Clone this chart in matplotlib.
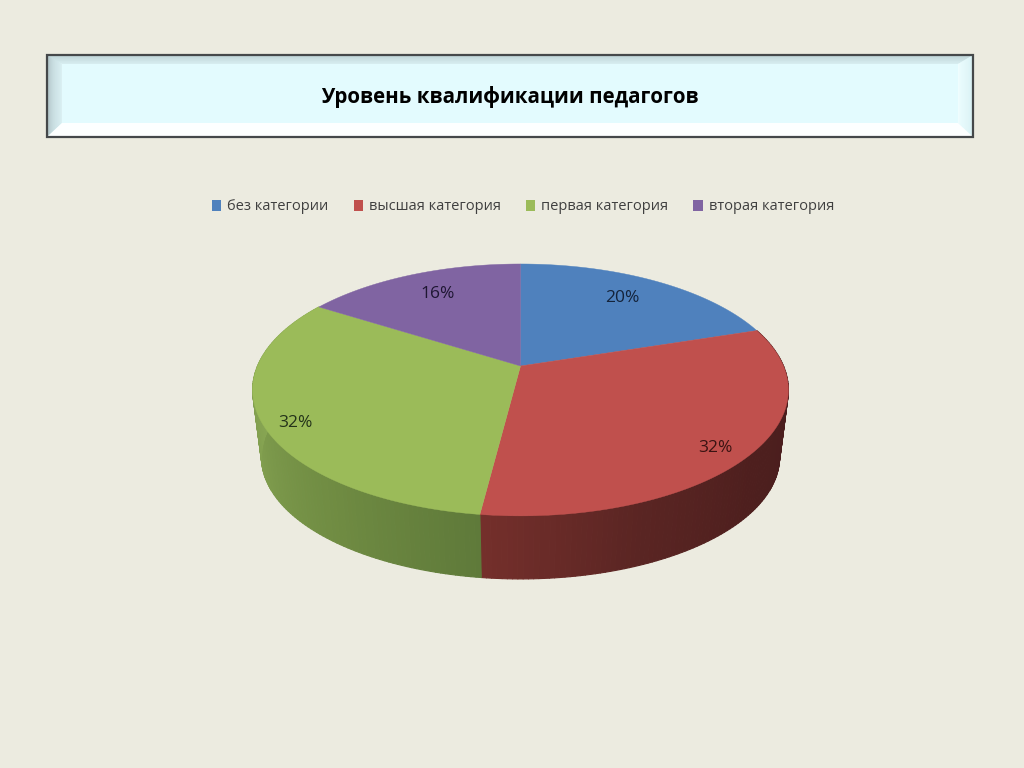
import numpy as np
import matplotlib
matplotlib.use("Agg")
import matplotlib.pyplot as plt
from matplotlib.patches import Patch, Rectangle, Polygon
from matplotlib.collections import PolyCollection
from matplotlib.colors import to_rgb

title = "Уровень квалификации педагогов"
categories = ["без категории", "высшая категория", "первая категория", "вторая категория"]
values = [20, 32, 32, 16]
labels = ["20%", "32%", "32%", "16%"]
colors = ["#4F81BD", "#C0504D", "#9BBB59", "#8064A2"]
label_colors = ["#14233a", "#3a1312", "#24331a", "#1e1632"]

side_red = ["#4a1e1e", "#4a1e1e", "#4e1f1e", "#5a2523", "#742f2b"]
side_green = ["#5f7a3a", "#6f8b42", "#7d9a4c", "#88a653", "#8eae57"]

BG = "#ECEBE0"
K = 0.19; A = 263.0; B = 121.4; CX = 520.5; CY_TOP = 366.0; CY_BOT = 434.0; S_BOT = 0.967


def project(theta, r=1.0, bottom=False):
    sx = r * np.sin(theta); cy = r * np.cos(theta)
    w = 1 + K * cy
    X = A * sx / w; Y = B * cy / w
    if bottom:
        return CX + S_BOT * X, CY_BOT - S_BOT * Y
    return CX + X, CY_TOP - Y


def mix(c0, c1, t):
    a = np.array(to_rgb(c0)); b = np.array(to_rgb(c1))
    return tuple(a + (b - a) * t)


plt.rcParams["font.family"] = ["Open Sans", "DejaVu Sans"]
fig = plt.figure(figsize=(10.24, 7.68), dpi=100, facecolor=BG)
ax = fig.add_axes([0, 0, 1, 1])
ax.set_xlim(0, 1024); ax.set_ylim(768, 0); ax.axis("off")

# title box with a soft bevel
x0, x1, y0, y1 = 47, 973, 55, 137
ax.add_patch(Rectangle((x0, y0), x1 - x0, y1 - y0, fc="#E3FBFE", ec="none", zorder=1))
bt, bl, bb, br = 9, 15, 14, 15
steps = 14
for s in range(steps):
    f0, f1 = s / steps, (s + 1) / steps
    ax.add_patch(Polygon([(x0 + bl * f0, y0 + bt * f0), (x1 - br * f0, y0 + bt * f0),
                          (x1 - br * f1, y0 + bt * f1), (x0 + bl * f1, y0 + bt * f1)],
                         fc=mix("#B4C8CB", "#D6ECEF", f0), ec="none", zorder=2))
    ax.add_patch(Polygon([(x0 + bl * f0, y0 + bt * f0), (x0 + bl * f1, y0 + bt * f1),
                          (x0 + bl * f1, y1 - bb * f1), (x0 + bl * f0, y1 - bb * f0)],
                         fc=mix("#AEC0C4", "#DDF3F6", f0), ec="none", zorder=2))
    ax.add_patch(Polygon([(x1 - br * f0, y0 + bt * f0), (x1 - br * f1, y0 + bt * f1),
                          (x1 - br * f1, y1 - bb * f1), (x1 - br * f0, y1 - bb * f0)],
                         fc=mix("#D8F0F3", "#F0FEFF", f0), ec="none", zorder=2))
ax.add_patch(Polygon([(x0, y1), (x0 + bl, y1 - bb), (x1 - br, y1 - bb), (x1, y1)], fc="#FDFFFF", ec="none", zorder=2))
ax.add_patch(Rectangle((x0, y0), x1 - x0, y1 - y0, fc="none", ec="#45484A", lw=1.6, zorder=3))
ax.text(510, 97, title, ha="center", va="center", fontsize=14.8, fontweight="bold", color="black", zorder=4)

# pie
edges = np.cumsum([0] + values) / sum(values) * 2 * np.pi


def ramp(cols, t):
    rgb = np.array([to_rgb(c) for c in cols])
    p = t * (len(cols) - 1)
    return [np.interp(p, np.arange(len(cols)), rgb[:, i]) for i in range(3)]


for i, cols in [(1, side_red), (2, side_green)]:
    a, e = edges[i], edges[i + 1]
    th = np.linspace(a, e, 121)
    polys = []; fcs = []
    for j in range(len(th) - 1):
        t0, t1 = th[j], th[j + 1]
        xa, ya = project(np.array([t0, t1]))
        xb, yb = project(np.array([t1, t0]), bottom=True)
        polys.append(list(zip(xa, ya)) + list(zip(xb, yb)))
        fcs.append(ramp(cols, j / (len(th) - 2)))
    ax.add_collection(PolyCollection(polys, facecolors=fcs, edgecolors="face", linewidths=0.8, zorder=5))

for i, c in enumerate(colors):
    th = np.linspace(edges[i], edges[i + 1], 200)
    px, py = project(th)
    ax.add_patch(Polygon(np.vstack([[CX, CY_TOP], np.column_stack([px, py])]), fc=c, ec=c, lw=0.3, zorder=6))

label_r = [0.73, 0.86, 0.88, 0.73]
label_dy = [-4, 8, 8, -3]
for i, s in enumerate(labels):
    mid = (edges[i] + edges[i + 1]) / 2
    lx, ly = project(mid, r=label_r[i])
    ax.text(lx, ly + label_dy[i], s, ha="center", va="center", fontsize=12.5, color=label_colors[i], zorder=7)

handles = [Patch(fc=c, ec="none") for c in colors]
ax.legend(handles, categories, loc="center", bbox_to_anchor=(523, 207), bbox_transform=ax.transData,
          ncols=4, frameon=False, fontsize=10.5, handlelength=0.65, handleheight=0.7,
          handletextpad=0.4, columnspacing=1.72, labelcolor="#404040", borderpad=0)

fig.savefig("out.png", dpi=100, facecolor=BG)
